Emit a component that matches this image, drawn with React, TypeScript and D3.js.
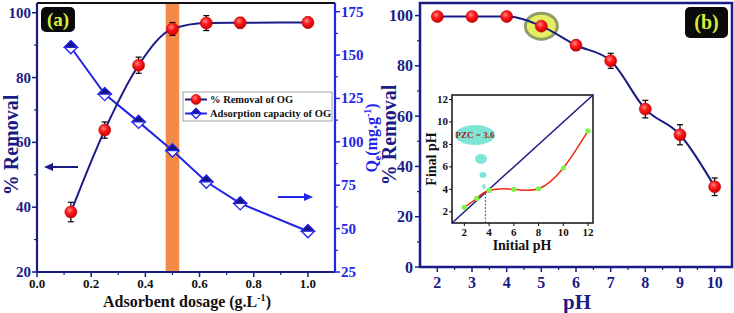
import React from 'react';
import * as d3 from 'd3';

// panel (a): dosage vs removal / adsorption capacity
const dosage = [0.125, 0.25, 0.375, 0.5, 0.625, 0.75, 1.0];
const removalA = [38.5, 63.8, 83.8, 95.0, 96.8, 96.9, 97.0];
const removalAErr = [3, 2.5, 2.5, 2, 2.3, 1.6, 1.6];
const capacity = [154.5, 127.5, 111.5, 95.0, 77.0, 64.5, 48.5];
const xTicksA = [0, 0.2, 0.4, 0.6, 0.8, 1.0];
const yTicksA = [20, 40, 60, 80, 100];
const qTicks = [25, 50, 75, 100, 125, 150, 175];

// panel (b): pH vs removal
const phValues = [2, 3, 4, 5, 6, 7, 8, 9, 10];
const removalB = [99.6, 99.6, 99.6, 95.8, 88.2, 82.0, 62.8, 52.6, 31.9];
const removalBErr = [1, 1, 1, 1.5, 2, 3, 3.5, 4, 3.5];
const yTicksB = [0, 20, 40, 60, 80, 100];

// inset: initial vs final pH
const initialPH = [2, 3, 4, 6, 8, 10, 12];
const finalPH = [2.4, 3.2, 3.9, 4.0, 4.05, 5.9, 9.2];
const insetTicks = [2, 4, 6, 8, 10, 12];
const pzc = 3.7;

const NAVY = '#1b1b86';
const BLUE = '#2424e8';
// font set on each text; inherited font did not take
const tf = { fontFamily: 'Liberation Serif', fontWeight: 'bold' };

function Sphere({ cx, cy, r = 6 }: { cx: number; cy: number; r?: number }) {
  return <circle cx={cx} cy={cy} r={r} fill="url(#sphere)" stroke="#c00000" strokeWidth={0.6} />;
}

function Diamond({ cx, cy, s = 6.5 }: { cx: number; cy: number; s?: number }) {
  return (
    <g>
      <path d={`M${cx},${cy - s}L${cx + s},${cy}L${cx},${cy + s}L${cx - s},${cy}Z`} fill="#fff" stroke={BLUE} strokeWidth={1.3} />
      <path d={`M${cx},${cy - s}L${cx + s},${cy}L${cx - s},${cy}Z`} fill="#15157a" stroke={BLUE} strokeWidth={1.3} />
    </g>
  );
}

function ErrBar({ x, y1, y2 }: { x: number; y1: number; y2: number }) {
  return (
    <g stroke="#000" strokeWidth={1.2}>
      <line x1={x} x2={x} y1={y1} y2={y2} />
      <line x1={x - 3} x2={x + 3} y1={y1} y2={y1} />
      <line x1={x - 3} x2={x + 3} y1={y2} y2={y2} />
    </g>
  );
}

function PanelA() {
  const L = 37, R = 335, T = 3, B = 272;
  const x = d3.scaleLinear().domain([0, 1.1]).range([L, R]);
  const y = d3.scaleLinear().domain([20, 103]).range([B, T]);
  const q = d3.scaleLinear().domain([25, 180]).range([B, T]);

  const removalLine = d3.line<number>().x((_, i) => x(dosage[i])).y(d => y(d)).curve(d3.curveMonotoneX);
  const capLine = d3.line<number>().x((_, i) => x(dosage[i])).y(d => q(d));

  const xMinor = d3.range(0.1, 1.1, 0.2);
  const yMinor = [30, 50, 70, 90];
  const qMinor = [37.5, 62.5, 87.5, 112.5, 137.5, 162.5];

  return (
    <g>
      <rect x={x(0.475)} y={T} width={x(0.525) - x(0.475)} height={B - T} fill="#f28a4a" />
      {/* frame */}
      <line x1={L} x2={R} y1={T} y2={T} stroke="#111" strokeWidth={2} />
      <line x1={L} x2={L} y1={T} y2={B} stroke={NAVY} strokeWidth={2.2} />
      <line x1={L} x2={R} y1={B} y2={B} stroke={NAVY} strokeWidth={2.2} />
      <line x1={R} x2={R} y1={T} y2={B} stroke={BLUE} strokeWidth={2.2} />

      {/* bottom ticks */}
      {xTicksA.map(t => (
        <g key={t}>
          <line x1={x(t)} x2={x(t)} y1={B} y2={B + 5} stroke={NAVY} strokeWidth={1.5} />
          <text {...tf} x={x(t)} y={B + 16} textAnchor="middle" fontSize={13} fill="#111">{t.toFixed(1)}</text>
        </g>
      ))}
      {xMinor.map(t => <line key={t} x1={x(t)} x2={x(t)} y1={B} y2={B + 3} stroke={NAVY} strokeWidth={1.2} />)}

      {/* left ticks */}
      {yTicksA.map(t => (
        <g key={t}>
          <line x1={L - 5} x2={L} y1={y(t)} y2={y(t)} stroke={NAVY} strokeWidth={1.5} />
          <text {...tf} x={L - 6} y={y(t) + 5} textAnchor="end" fontSize={15} fill={NAVY}>{t}</text>
        </g>
      ))}
      {yMinor.map(t => <line key={t} x1={L - 3} x2={L} y1={y(t)} y2={y(t)} stroke={NAVY} strokeWidth={1.2} />)}

      {/* right ticks */}
      {qTicks.map(t => (
        <g key={t}>
          <line x1={R} x2={R + 5} y1={q(t)} y2={q(t)} stroke={BLUE} strokeWidth={1.5} />
          <text {...tf} x={R + 6} y={q(t) + 5} textAnchor="start" fontSize={15} fill={BLUE}>{t}</text>
        </g>
      ))}
      {qMinor.map(t => <line key={t} x1={R} x2={R + 3} y1={q(t)} y2={q(t)} stroke={BLUE} strokeWidth={1.2} />)}

      {/* capacity series */}
      <path d={capLine(capacity) || ''} fill="none" stroke={BLUE} strokeWidth={2} />
      {capacity.map((v, i) => <Diamond key={i} cx={x(dosage[i])} cy={q(v)} />)}

      {/* removal series */}
      <path d={removalLine(removalA) || ''} fill="none" stroke={NAVY} strokeWidth={2} />
      {removalA.map((v, i) => (
        <ErrBar key={i} x={x(dosage[i])} y1={y(v - removalAErr[i])} y2={y(v + removalAErr[i])} />
      ))}
      {removalA.map((v, i) => <Sphere key={i} cx={x(dosage[i])} cy={y(v)} />)}

      {/* arrows */}
      <line x1={78} x2={50} y1={167} y2={167} stroke={NAVY} strokeWidth={2} />
      <path d="M44,167L53,163L53,171Z" fill={NAVY} />
      <line x1={278} x2={305} y1={197} y2={197} stroke={BLUE} strokeWidth={2} />
      <path d="M313,197L304,193L304,201Z" fill={BLUE} />

      {/* legend */}
      <rect x={183} y={92} width={149} height={29} fill="#fff" stroke="#888" strokeWidth={0.8} />
      <line x1={185} x2={207} y1={99.5} y2={99.5} stroke={NAVY} strokeWidth={2} />
      <Sphere cx={196} cy={99.5} r={5} />
      <text {...tf} x={210} y={103} fontSize={10.5} fill="#111">% Removal of OG</text>
      <line x1={185} x2={207} y1={113.5} y2={113.5} stroke={BLUE} strokeWidth={2} />
      <Diamond cx={196} cy={113.5} s={5} />
      <text {...tf} x={210} y={117} fontSize={10.5} fill="#111">Adsorption capacity of OG</text>

      {/* tag */}
      <rect x={41} y={7} width={34} height={25} rx={5} fill="#0a0a0a" />
      <text {...tf} x={58} y={26} textAnchor="middle" fontSize={19} fill="#d4ee3c">(a)</text>

      {/* axis titles */}
      <text {...tf} transform={`translate(18,145) rotate(-90)`} textAnchor="middle" fontSize={20} fill={NAVY}>% Removal</text>
      <text {...tf} transform={`translate(377,138) rotate(-90)`} textAnchor="middle" fontSize={16} fill={BLUE}>
        Q<tspan fontSize={10} dy={4}>e</tspan><tspan dy={-4}>(mg.g</tspan><tspan fontSize={10} dy={-6}>-1</tspan><tspan dy={6}>)</tspan>
      </text>
      <text {...tf} x={187} y={307} textAnchor="middle" fontSize={16} fill="#111">
        Adsorbent dosage (g.L<tspan fontSize={10} dy={-6}>-1</tspan><tspan dy={6}>)</tspan>
      </text>
    </g>
  );
}

function Inset() {
  const L = 452, R = 593, T = 95, B = 223;
  const x = d3.scaleLinear().domain([1, 12.4]).range([L, R]);
  const y = d3.scaleLinear().domain([1, 12.4]).range([B, T]);
  const curve = d3.line<number>().x((_, i) => x(initialPH[i])).y(d => y(d)).curve(d3.curveNatural);
  return (
    <g>
      <rect x={L} y={T} width={R - L} height={B - T} fill="#fff" stroke="#111" strokeWidth={1.5} />
      <line x1={x(1)} y1={y(1)} x2={x(12.4)} y2={y(12.4)} stroke={NAVY} strokeWidth={1.5} />
      <line x1={x(pzc)} x2={x(pzc)} y1={B} y2={y(pzc)} stroke="#e02020" strokeWidth={1} strokeDasharray="2,1.5" />
      <path d={curve(finalPH) || ''} fill="none" stroke="#ee2a10" strokeWidth={1.5} />
      {finalPH.map((v, i) => <circle key={i} cx={x(initialPH[i])} cy={y(v)} r={2.6} fill="#7cf24a" />)}
      {insetTicks.map(t => (
        <g key={t}>
          <line x1={x(t)} x2={x(t)} y1={B} y2={B + 3} stroke="#111" />
          <text {...tf} x={x(t)} y={B + 13} textAnchor="middle" fontSize={11} fill="#111">{t}</text>
          <line x1={L - 3} x2={L} y1={y(t)} y2={y(t)} stroke="#111" />
          <text {...tf} x={L - 4} y={y(t) + 3.5} textAnchor="end" fontSize={11} fill="#111">{t}</text>
        </g>
      ))}
      <ellipse cx={475} cy={135} rx={20} ry={10} fill="#7fe6d6" />
      <text {...tf} x={475} y={138} textAnchor="middle" fontSize={9} fill="#a01818">PZC = 3.6</text>
      <ellipse cx={481} cy={159} rx={6} ry={5} fill="#7fe6d6" />
      <ellipse cx={483} cy={175} rx={3.5} ry={3} fill="#7fe6d6" />
      <ellipse cx={484} cy={186.5} rx={1.8} ry={2.5} fill="#7fe6d6" />
      <text {...tf} transform={`translate(436,${(T + B) / 2}) rotate(-90)`} textAnchor="middle" fontSize={14} fill="#111">Final pH</text>
      <text {...tf} x={522} y={250} textAnchor="middle" fontSize={14} fill="#111">Initial pH</text>
    </g>
  );
}

function PanelB() {
  const L = 420, R = 732, T = 3, B = 267;
  const x = d3.scaleLinear().domain([1.5, 10.5]).range([L, R]);
  const y = d3.scaleLinear().domain([0, 105]).range([B, T]);
  const line = d3.line<number>().x((_, i) => x(phValues[i])).y(d => y(d)).curve(d3.curveMonotoneX);
  const xMinor = d3.range(2.5, 10.5, 1);
  const yMinor = d3.range(10, 101, 20);
  return (
    <g>
      <rect x={L} y={T} width={R - L} height={B - T} fill="none" stroke={NAVY} strokeWidth={2.5} />
      {phValues.map(t => (
        <g key={t}>
          <line x1={x(t)} x2={x(t)} y1={B} y2={B + 5} stroke={NAVY} strokeWidth={1.5} />
          <text {...tf} x={x(t)} y={B + 21} textAnchor="middle" fontSize={16} fill={NAVY}>{t}</text>
        </g>
      ))}
      {xMinor.map(t => <line key={t} x1={x(t)} x2={x(t)} y1={B} y2={B + 3} stroke={NAVY} strokeWidth={1.2} />)}
      {yTicksB.map(t => (
        <g key={t}>
          <line x1={L - 5} x2={L} y1={y(t)} y2={y(t)} stroke={NAVY} strokeWidth={1.5} />
          <text {...tf} x={L - 7} y={y(t) + 5.5} textAnchor="end" fontSize={16} fill={NAVY}>{t}</text>
        </g>
      ))}
      {yMinor.map(t => <line key={t} x1={L - 3} x2={L} y1={y(t)} y2={y(t)} stroke={NAVY} strokeWidth={1.2} />)}

      <ellipse cx={x(5)} cy={y(removalB[3])} rx={16} ry={13} fill="#e6ee62" stroke="#8d9e66" strokeWidth={3} />
      <path d={line(removalB) || ''} fill="none" stroke={NAVY} strokeWidth={2} />
      {removalB.map((v, i) => (
        <ErrBar key={i} x={x(phValues[i])} y1={y(v - removalBErr[i])} y2={y(v + removalBErr[i])} />
      ))}
      {removalB.map((v, i) => <Sphere key={i} cx={x(phValues[i])} cy={y(v)} />)}

      <rect x={685} y={7} width={43} height={31} rx={5} fill="#0a0a0a" />
      <text {...tf} x={706.5} y={29} textAnchor="middle" fontSize={20} fill="#d4ee3c">(b)</text>

      <text {...tf} transform={`translate(396,${(T + B) / 2}) rotate(-90)`} textAnchor="middle" fontSize={20} fill={NAVY}>% Removal</text>
      <text {...tf} x={577} y={309} textAnchor="middle" fontSize={21} fill={NAVY}>pH</text>
      <Inset />
    </g>
  );
}

export default function App() {
  return (
    <div style={{ position: 'fixed', left: 0, top: 0, width: 734, height: 313, background: '#fff' }}>
      <svg width={734} height={313}>
        <defs>
          <radialGradient id="sphere" cx="40%" cy="35%" r="65%">
            <stop offset="0%" stopColor="#ff8a8a" />
            <stop offset="45%" stopColor="#ff1a1a" />
            <stop offset="100%" stopColor="#c80000" />
          </radialGradient>
        </defs>
        <rect width={734} height={313} fill="#fff" />
        <PanelA />
        <PanelB />
      </svg>
    </div>
  );
}
